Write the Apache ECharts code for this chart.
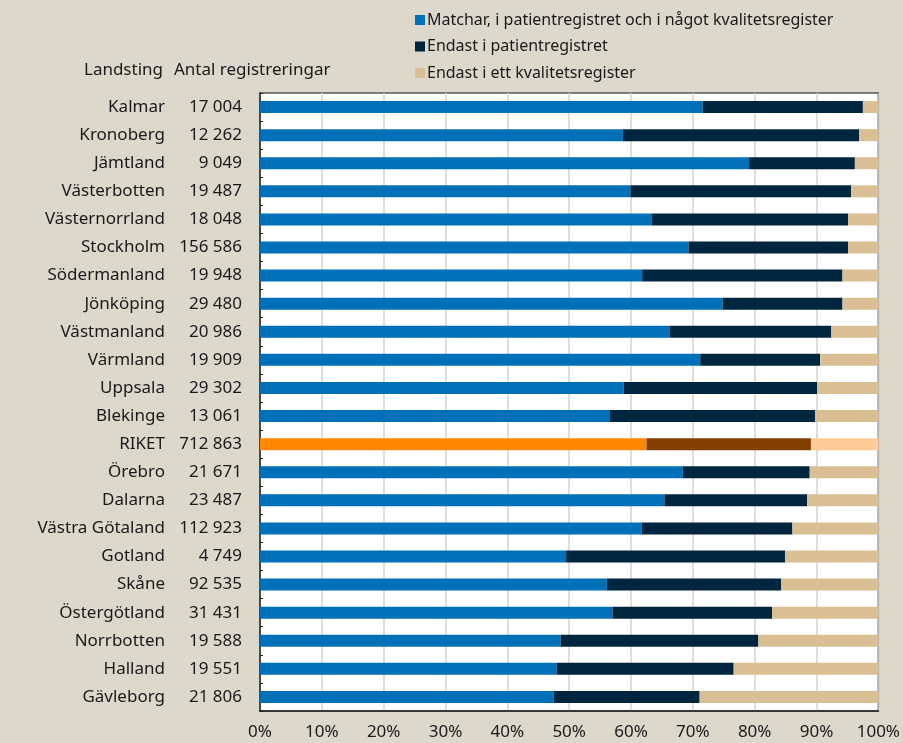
<!DOCTYPE html>
<html>
<head>
<meta charset="utf-8">
<script src="https://cdn.jsdelivr.net/npm/echarts@6/dist/echarts.min.js"></script>
<style>
  html, body { margin: 0; padding: 0; background: #ddd8cc; }
  #chart { width: 903px; height: 743px; }
</style>
</head>
<body>
<div id="chart"></div>
<script>
// landsting, top to bottom
const categories = ['Kalmar', 'Kronoberg', 'Jämtland', 'Västerbotten', 'Västernorrland', 'Stockholm',
  'Södermanland', 'Jönköping', 'Västmanland', 'Värmland', 'Uppsala', 'Blekinge', 'RIKET', 'Örebro',
  'Dalarna', 'Västra Götaland', 'Gotland', 'Skåne', 'Östergötland', 'Norrbotten', 'Halland', 'Gävleborg']
const counts = ['17 004', '12 262', '9 049', '19 487', '18 048', '156 586', '19 948', '29 480', '20 986',
  '19 909', '29 302', '13 061', '712 863', '21 671', '23 487', '112 923', '4 749', '92 535', '31 431',
  '19 588', '19 551', '21 806']
// andel i procent
const matchar = [71.6, 58.7, 79.1, 59.9, 63.4, 69.3, 61.8, 74.8, 66.3, 71.2, 58.8, 56.5, 62.5, 68.4,
  65.4, 61.7, 49.5, 56.1, 57.0, 48.6, 48.0, 47.5]
const endastPatient = [25.9, 38.2, 17.1, 35.7, 31.7, 25.8, 32.4, 19.4, 26.1, 19.4, 31.3, 33.3, 26.6, 20.5,
  23.1, 24.4, 35.4, 28.2, 25.8, 32.0, 28.6, 23.6]
const endastKvalitet = [2.5, 3.1, 3.8, 4.4, 4.9, 4.9, 5.8, 5.8, 7.6, 9.4, 9.9, 10.2, 10.9, 11.1,
  11.5, 13.9, 15.1, 15.7, 17.2, 19.4, 23.4, 28.9]
const xTicks = ['0%', '10%', '20%', '30%', '40%', '50%', '60%', '70%', '80%', '90%', '100%']

const seriesNames = [
  'Matchar, i patientregistret och i något kvalitetsregister',
  'Endast i patientregistret',
  'Endast i ett kvalitetsregister'
]
const colors = ['#0070b8', '#00263f', '#d9bf93']
const riketColors = ['#ff8800', '#833f00', '#ffcc99']
const FONT = 'Noto Sans'

function toData(arr, idx) {
  return arr.map(function (v, i) {
    if (categories[i] === 'RIKET') {
      return { value: v, itemStyle: { color: riketColors[idx] } }
    }
    return v
  })
}

const chart = echarts.init(document.getElementById('chart'))
const option = {
  backgroundColor: '#ddd8cc',
  animation: false,
  textStyle: { fontFamily: FONT },
  legend: {
    orient: 'vertical',
    left: 410,
    top: 6,
    itemWidth: 10,
    itemHeight: 10,
    itemGap: 8.5,
    icon: 'rect',
    data: seriesNames,
    textStyle: { fontSize: 16, color: '#1a1a1a', fontFamily: FONT, lineHeight: 18, padding: [0, 0, 0, -3] }
  },
  graphic: [
    { type: 'text', right: 903 - 163, top: 62,
      style: { text: 'Landsting', fontSize: 17, fill: '#1a1a1a', fontFamily: FONT } },
    { type: 'text', left: 174, top: 62,
      style: { text: 'Antal registreringar', fontSize: 17, fill: '#1a1a1a', fontFamily: FONT } }
  ],
  grid: {
    left: 260,
    right: 24,
    top: 93,
    bottom: 32,
    show: true,
    backgroundColor: '#ffffff',
    borderColor: '#555',
    borderWidth: 1.5
  },
  xAxis: {
    type: 'value',
    min: 0,
    max: 100,
    interval: 10,
    axisLine: { show: true, lineStyle: { color: '#222', width: 1.5 } },
    axisTick: { show: false },
    splitLine: { show: true, lineStyle: { color: '#d8d2c8', width: 1.5 } },
    axisLabel: {
      margin: 13,
      fontSize: 17,
      color: '#1a1a1a',
      formatter: function (v) { return xTicks[v / 10] }
    }
  },
  yAxis: {
    type: 'category',
    inverse: true,
    data: categories,
    axisLine: { show: true, lineStyle: { color: '#222', width: 1.5 } },
    axisTick: { show: true, inside: true, length: 3, lineStyle: { color: '#222' } },
    axisLabel: {
      margin: 18,
      formatter: function (v, i) { return '{n|' + v + '}{c|' + counts[i] + '}' },
      rich: {
        n: { fontSize: 17, color: '#1a1a1a', fontFamily: FONT, width: 150, align: 'right' },
        c: { fontSize: 17, color: '#1a1a1a', fontFamily: FONT, width: 77, align: 'right' }
      }
    }
  },
  series: [
    { name: seriesNames[0], type: 'bar', stack: 'a', barWidth: 12, color: colors[0], data: toData(matchar, 0) },
    { name: seriesNames[1], type: 'bar', stack: 'a', barWidth: 12, color: colors[1], data: toData(endastPatient, 1) },
    { name: seriesNames[2], type: 'bar', stack: 'a', barWidth: 12, color: colors[2], data: toData(endastKvalitet, 2) }
  ]
}
chart.setOption(option)
</script>
</body>
</html>
